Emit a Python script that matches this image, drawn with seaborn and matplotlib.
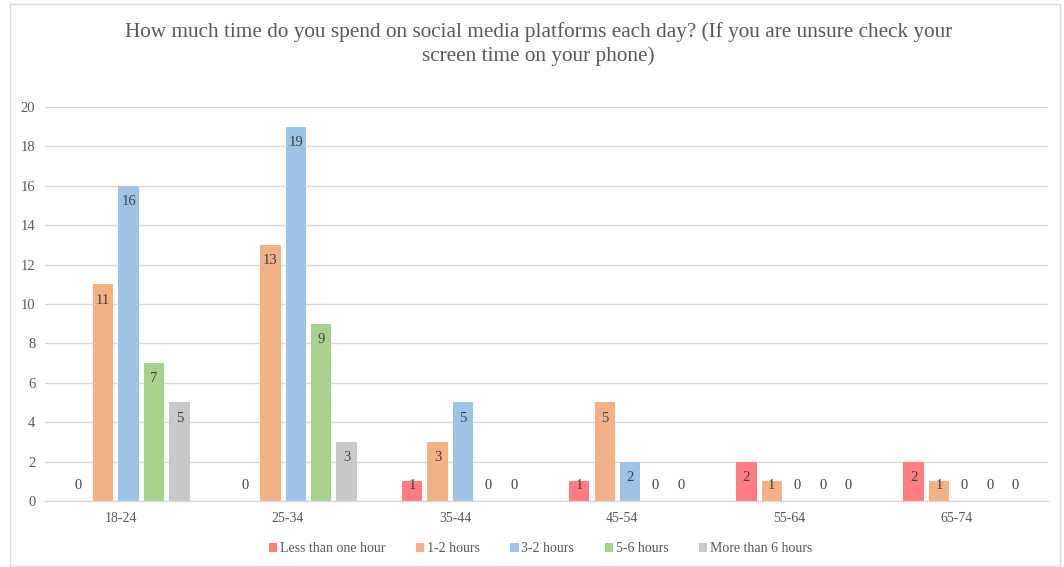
import matplotlib
matplotlib.use("Agg")
import matplotlib.pyplot as plt
from matplotlib.patches import Patch, Rectangle
from matplotlib.transforms import ScaledTranslation
import seaborn as sns
import pandas as pd

age_groups = ["18-24", "25-34", "35-44", "45-54", "55-64", "65-74"]
series_names = ["Less than one hour", "1-2 hours", "3-2 hours", "5-6 hours", "More than 6 hours"]
less_than_one = [0, 0, 1, 1, 2, 2]
one_to_two = [11, 13, 3, 5, 1, 1]
three_to_two = [16, 19, 5, 2, 0, 0]
five_to_six = [7, 9, 0, 0, 0, 0]
more_than_six = [5, 3, 0, 0, 0, 0]
colors = ["#FF7C80", "#F4B183", "#9DC3E6", "#A9D18E", "#C9C9C9"]
title = ("How much time do you spend on social media platforms each day? (If you are unsure check your\n"
         "screen time on your phone)")

values = [less_than_one, one_to_two, three_to_two, five_to_six, more_than_six]
df = pd.DataFrame(
    [(g, s, v) for s, vals in zip(series_names, values) for g, v in zip(age_groups, vals)],
    columns=["age", "time", "count"],
)

sns.set_theme(style="white")
plt.rcParams["font.family"] = ["Liberation Serif", "DejaVu Serif"]
text_color = "#595959"

fig = plt.figure(figsize=(10.64, 5.67), dpi=100)
ax = fig.add_axes([0.0423, 0.1164, 0.9427, 0.6949])

sns.barplot(data=df, x="age", y="count", hue="time", order=age_groups,
            hue_order=series_names, palette=colors, width=0.76, gap=0.2,
            legend=False, ax=ax, saturation=1, edgecolor="none")

ax.set_ylim(0, 20)
ax.set_yticks(range(0, 21, 2))
ax.set_xlim(-0.5, len(age_groups) - 0.5)
ax.yaxis.grid(True, color="#D9D9D9", linewidth=1)
ax.set_axisbelow(True)
for side in ["top", "right", "left"]:
    ax.spines[side].set_visible(False)
ax.spines["bottom"].set_color("#D9D9D9")
ax.spines["bottom"].set_linewidth(1)
ax.tick_params(axis="y", length=0, labelsize=10.5, labelcolor=text_color, pad=7)
ax.tick_params(axis="x", length=0, labelsize=10, labelcolor=text_color, pad=8)
ax.set_xlabel("")
ax.set_ylabel("")

# category labels sit slightly left of the group centres
shift = ScaledTranslation(-8 / 100, 0, fig.dpi_scale_trans)
for lbl in ax.get_xticklabels():
    lbl.set_transform(lbl.get_transform() + shift)

# value labels just inside the top of each bar (or above the baseline for small values)
for container, vals in zip(ax.containers, values):
    for bar, v in zip(container, vals):
        cx = bar.get_x() + bar.get_width() / 2
        y = max(v - 0.8, 0.8)
        ax.text(cx, y, f"{v}", ha="center", va="center", fontsize=10.5, color="#404040")

fig.text(0.506, 0.961, title, ha="center", va="top", fontsize=15.3, color=text_color,
         linespacing=1.32)

handles = [Patch(facecolor=c, edgecolor="none") for c in colors]
fig.legend(handles, series_names, loc="center", bbox_to_anchor=(0.508, 0.032), ncol=5,
           frameon=False, fontsize=10, labelcolor=text_color, handlelength=0.6,
           handleheight=0.6, handletextpad=0.2, columnspacing=2.2)

fig.patches.append(Rectangle((10 / 1064, 1 / 567), 1050 / 1064, 562 / 567,
                             transform=fig.transFigure, fill=False,
                             edgecolor="#D9D9D9", linewidth=1))

fig.savefig("out.png", dpi=100, facecolor="white")
